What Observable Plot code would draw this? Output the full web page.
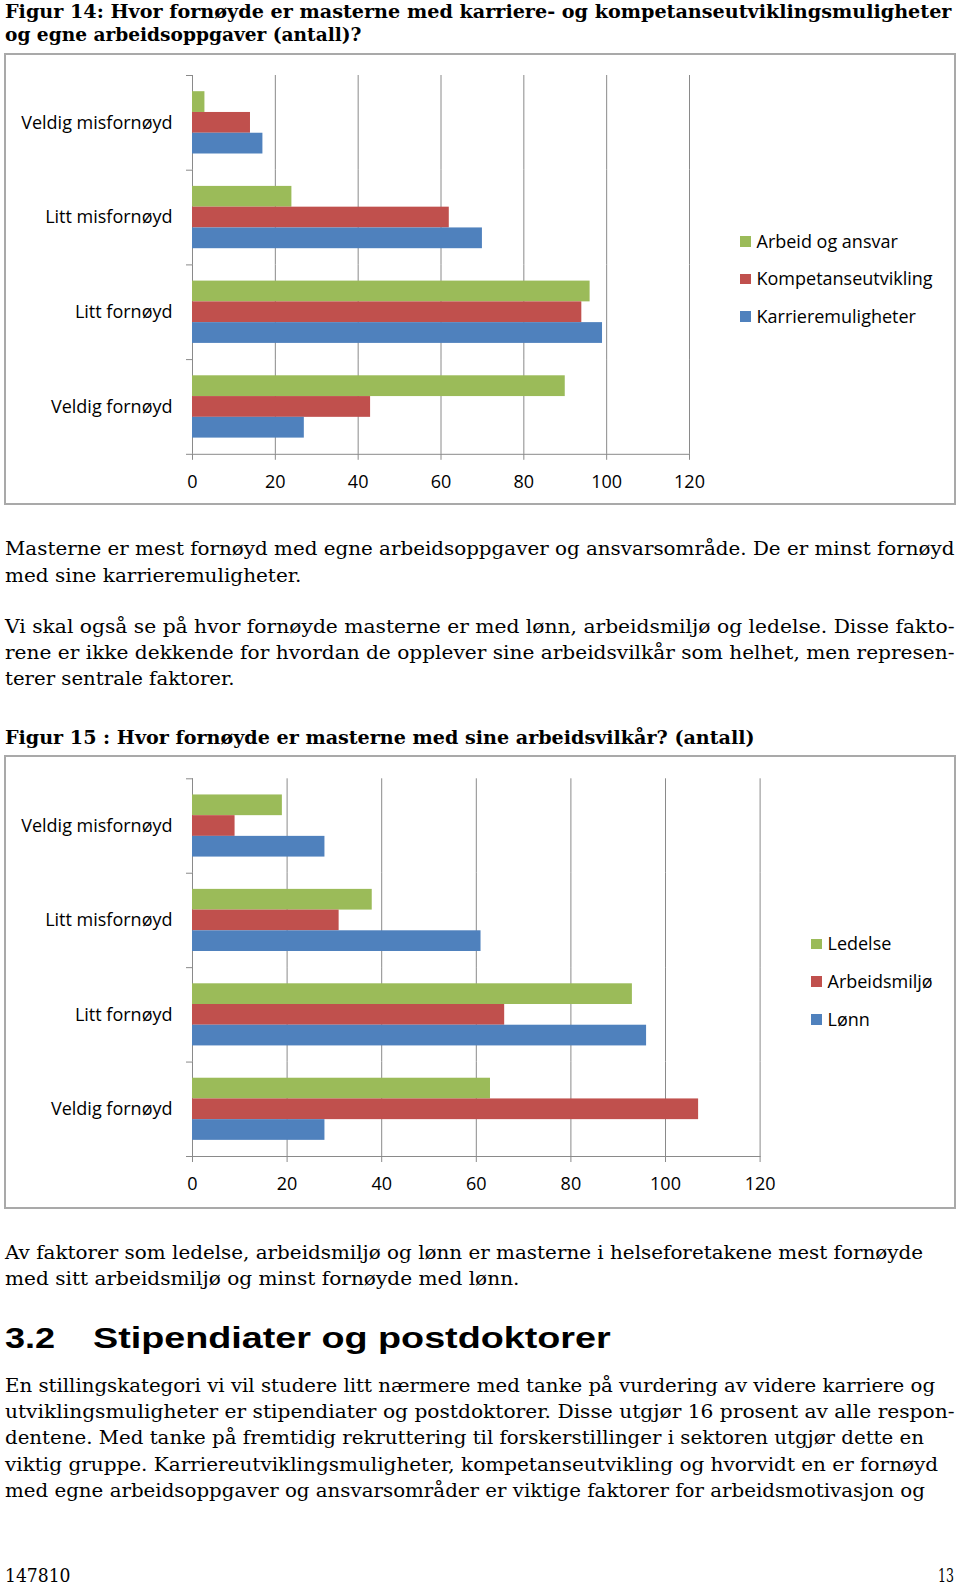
<!DOCTYPE html>
<html><head><meta charset="utf-8">
<script src="https://cdn.jsdelivr.net/npm/d3@7"></script>
<script src="https://cdn.jsdelivr.net/npm/@observablehq/plot@0.6"></script>
<style>
html,body{margin:0;padding:0;background:#fff;}
#page{position:relative;width:960px;height:1589px;overflow:hidden;color:#000;}
.ln{position:absolute;white-space:nowrap;font-family:"DejaVu Serif",serif;font-size:19px;line-height:26px;}
.ln span{display:inline-block;transform-origin:0 0;}
.b{font-weight:bold;}
.h{font-family:"Liberation Sans",Arial,sans-serif;font-weight:bold;font-size:30px;line-height:36px;}
.box{position:absolute;left:4px;width:952px;box-sizing:border-box;border:2px solid #a9a9a9;}
.chart{position:absolute;left:0;}
.leg{position:absolute;font-family:"Open Sans",sans-serif;font-size:18px;line-height:24px;white-space:nowrap;color:#000;}
.sw{position:absolute;width:10.5px;height:10.5px;}
</style></head><body><div id="page"></div><script>
// ---- chart data ----
const categories = ["Veldig misfornøyd", "Litt misfornøyd", "Litt fornøyd", "Veldig fornøyd"];
const xTicks = [0, 20, 40, 60, 80, 100, 120];
const seriesColors = ["#9BBB59", "#C0504D", "#4F81BD"];

const fig14Series = ["Arbeid og ansvar", "Kompetanseutvikling", "Karrieremuligheter"];
const fig14Arbeid = [3, 24, 96, 90];
const fig14Kompetanse = [14, 62, 94, 43];
const fig14Karriere = [17, 70, 99, 27];

const fig15Series = ["Ledelse", "Arbeidsmiljø", "Lønn"];
const fig15Ledelse = [19, 38, 93, 63];
const fig15Arbeidsmiljo = [9, 31, 66, 107];
const fig15Lonn = [28, 61, 96, 28];

const GRID = "#8a8a8a";
const page = document.getElementById("page");

function groupedBars(series, values, dims) {
  const rows = categories.flatMap((c, i) => series.map((s, j) => ({category: c, series: s, value: values[j][i]})));
  const {width, height, mL, mR, mT, mB} = dims;
  const plotW = width - mL - mR;
  const last = categories[categories.length - 1];
  return Plot.plot({
    width, height, marginLeft: mL, marginRight: mR, marginTop: mT, marginBottom: mB,
    style: {fontFamily: "'Open Sans', sans-serif", fontSize: "18px", color: "#000", background: "transparent"},
    x: {domain: [0, 120]},
    fy: {domain: categories, padding: 0, round: false, label: null, axis: "left", tickSize: 0, tickPadding: 20},
    y: {domain: series, paddingInner: 0, paddingOuter: 0.78, round: false, axis: null},
    color: {domain: series, range: seriesColors},
    marks: [
      Plot.ruleX(xTicks, {stroke: GRID, strokeWidth: 1}),
      Plot.barX(rows, {fy: "category", y: "series", x: "value", fill: "series"}),
      Plot.frame({anchor: "top", insetLeft: -6, insetRight: plotW, stroke: GRID}),
      Plot.frame({anchor: "bottom", insetLeft: -6, fy: () => last, stroke: GRID}),
      Plot.axisX({ticks: xTicks, tickSize: 6, tickPadding: 15, stroke: GRID, label: null})
    ]
  });
}

function placeChart(svg, top, boxH) {
  const box = document.createElement("div");
  box.className = "box"; box.style.top = top + "px"; box.style.height = boxH + "px";
  page.appendChild(box);
  svg.classList.add("chart");
  svg.style.position = "absolute"; svg.style.left = "0px"; svg.style.top = top + "px";
  svg.style.maxWidth = "none";
  page.appendChild(svg);
}

function legend(series, swX, cy0, step) {
  series.forEach((s, i) => {
    const cy = cy0 + i * step;
    const sw = document.createElement("div");
    sw.className = "sw"; sw.style.left = swX + "px"; sw.style.top = (cy - 5.25) + "px";
    sw.style.background = seriesColors[i];
    page.appendChild(sw);
    const t = document.createElement("div");
    t.className = "leg"; t.textContent = s;
    t.style.left = (swX + 16.5) + "px"; t.style.top = (cy - 12.6) + "px";
    page.appendChild(t);
  });
}

placeChart(groupedBars(fig14Series, [fig14Arbeid, fig14Kompetanse, fig14Karriere],
  {width: 960, height: 452, mL: 192, mR: 271, mT: 22, mB: 51.2}), 53, 452);
legend(fig14Series, 740, 241.3, 37.7);

placeChart(groupedBars(fig15Series, [fig15Ledelse, fig15Arbeidsmiljo, fig15Lonn],
  {width: 960, height: 454, mL: 192, mR: 200.4, mT: 23.3, mB: 53}), 755, 454);
legend(fig15Series, 811, 943.8, 37.8);

// ---- page text ----
const textLines = [
  {t: "Figur 14: Hvor fornøyde er masterne med karriere- og kompetanseutviklingsmuligheter", cls: "b", cy: 12.2, x1: 951},
  {t: "og egne arbeidsoppgaver (antall)?", cls: "b", cy: 34.5, x1: 361},
  {t: "Masterne er mest fornøyd med egne arbeidsoppgaver og ansvarsområde. De er minst fornøyd", cy: 549.4, x1: 954},
  {t: "med sine karrieremuligheter.", cy: 575.8, x1: 301},
  {t: "Vi skal også se på hvor fornøyde masterne er med lønn, arbeidsmiljø og ledelse. Disse fakto-", cy: 626.5, x1: 954},
  {t: "rene er ikke dekkende for hvordan de opplever sine arbeidsvilkår som helhet, men represen-", cy: 652.8, x1: 954},
  {t: "terer sentrale faktorer.", cy: 679.2, x1: 234},
  {t: "Figur 15 : Hvor fornøyde er masterne med sine arbeidsvilkår? (antall)", cls: "b", cy: 738, x1: 754},
  {t: "Av faktorer som ledelse, arbeidsmiljø og lønn er masterne i helseforetakene mest fornøyde", cy: 1253, x1: 922.5},
  {t: "med sitt arbeidsmiljø og minst fornøyde med lønn.", cy: 1279.3, x1: 519},
  {t: "3.2", cls: "h", cy: 1338, x1: 54.7, off: 17.7},
  {t: "Stipendiater og postdoktorer", cls: "h", cy: 1338, x0: 93.3, x1: 611, off: 17.7},
  {t: "En stillingskategori vi vil studere litt nærmere med tanke på vurdering av videre karriere og", cy: 1385.7, x1: 934.6},
  {t: "utviklingsmuligheter er stipendiater og postdoktorer. Disse utgjør 16 prosent av alle respon-", cy: 1412, x1: 954},
  {t: "dentene. Med tanke på fremtidig rekruttering til forskerstillinger i sektoren utgjør dette en", cy: 1438.4, x1: 923.5},
  {t: "viktig gruppe. Karriereutviklingsmuligheter, kompetanseutvikling og hvorvidt en er fornøyd", cy: 1464.8, x1: 937.7},
  {t: "med egne arbeidsoppgaver og ansvarsområder er viktige faktorer for arbeidsmotivasjon og", cy: 1491.2, x1: 924.5},
  {t: "147810", cy: 1576.3, x1: 70},
  {t: "13", cy: 1576.3, x0: 938, x1: 954}
];

textLines.forEach(({t, cls = "", cy, x0 = 4.5, x1, off = 14}) => {
  const d = document.createElement("div");
  d.className = "ln " + cls;
  d.style.left = x0 + "px"; d.style.top = (cy - off) + "px";
  const s = document.createElement("span"); s.textContent = t; d.appendChild(s);
  page.appendChild(d);
  const w = s.getBoundingClientRect().width;
  s.style.transform = `scaleX(${((x1 - x0) / w).toFixed(4)})`;
});
</script></body></html>
